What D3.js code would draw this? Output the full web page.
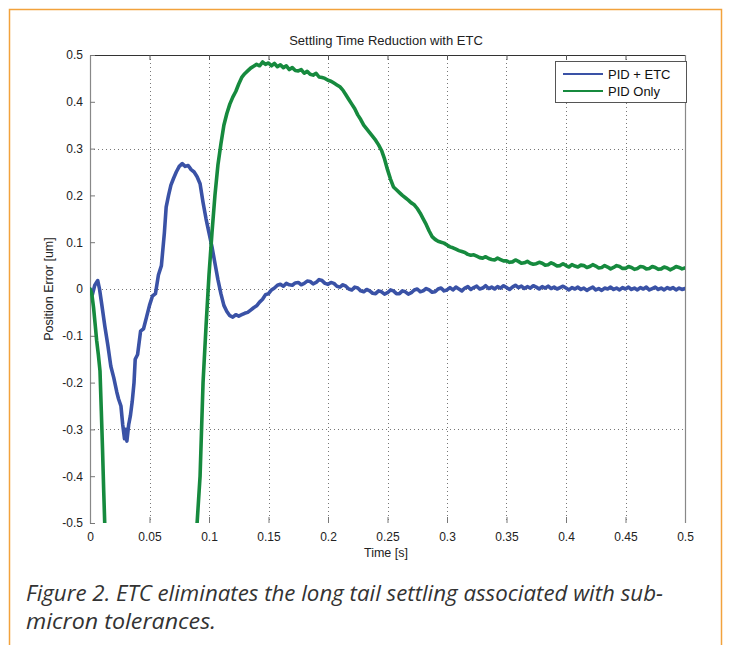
<!DOCTYPE html>
<html>
<head>
<meta charset="utf-8">
<script src="https://cdn.jsdelivr.net/npm/d3@7"></script>
<style>
  html, body { margin: 0; padding: 0; background: #fff; }
  svg { display: block; }
  .sans { font-family: 'Liberation Sans', Arial, Helvetica, sans-serif; }
  .cap { font-family: 'Open Sans', 'Noto Sans', sans-serif; font-style: italic; font-weight: 400; }
</style>
</head>
<body>
<svg id="chart" width="731" height="645"></svg>
<script>
// ---------- DATA ----------
const chartTitle = "Settling Time Reduction with ETC";
const xLabel = "Time [s]";
const yLabel = "Position Error [um]";
const xTicks = [0, 0.05, 0.1, 0.15, 0.2, 0.25, 0.3, 0.35, 0.4, 0.45, 0.5];
const xTickLabels = ["0", "0.05", "0.1", "0.15", "0.2", "0.25", "0.3", "0.35", "0.4", "0.45", "0.5"];
const yTicks = [-0.5, -0.4, -0.3, -0.2, -0.1, 0, 0.1, 0.2, 0.3, 0.4, 0.5];
const yTickLabels = ["-0.5", "-0.4", "-0.3", "-0.2", "-0.1", "0", "0.1", "0.2", "0.3", "0.4", "0.5"];
const yGridValues = [-0.3, 0, 0.3];
const seriesNames = ["PID + ETC", "PID Only"];
const captionLines = [
  "Figure 2. ETC eliminates the long tail settling associated with sub-",
  "micron tolerances."
];

// PID + ETC : [time, error]
const pidEtc = [
  [0, 0], [0.002, -0.012], [0.004, 0.008], [0.0065, 0.018], [0.008, 0.0],
  [0.010, -0.035], [0.0125, -0.08], [0.015, -0.12], [0.0175, -0.165], [0.020, -0.19],
  [0.0225, -0.22], [0.024, -0.235], [0.026, -0.25], [0.0275, -0.29], [0.029, -0.32],
  [0.030, -0.30], [0.031, -0.325], [0.0325, -0.29], [0.034, -0.27], [0.0355, -0.24],
  [0.037, -0.2], [0.038, -0.15], [0.040, -0.14], [0.0425, -0.09], [0.045, -0.085],
  [0.0475, -0.06], [0.050, -0.035], [0.0525, -0.015], [0.055, -0.01], [0.0575, 0.03],
  [0.060, 0.05], [0.0625, 0.12], [0.064, 0.175], [0.066, 0.2], [0.068, 0.222],
  [0.070, 0.235], [0.0725, 0.25], [0.075, 0.262], [0.0775, 0.268], [0.080, 0.262],
  [0.0825, 0.264], [0.085, 0.255], [0.0875, 0.25], [0.090, 0.24], [0.0925, 0.225],
  [0.095, 0.185], [0.0975, 0.15], [0.100, 0.12], [0.1025, 0.09], [0.105, 0.055],
  [0.1075, 0.02], [0.110, -0.01], [0.1125, -0.035], [0.115, -0.048], [0.1175, -0.057],
  [0.120, -0.06], [0.1225, -0.055], [0.125, -0.058], [0.1275, -0.055], [0.130, -0.052],
  [0.1325, -0.05], [0.135, -0.045], [0.1375, -0.04], [0.140, -0.036], [0.1425, -0.028],
  [0.145, -0.022], [0.1475, -0.012], [0.150, -0.01], [0.1525, -0.002], [0.155, 0.002],
  [0.1575, 0.008], [0.160, 0.01], [0.1625, 0.006], [0.165, 0.012], [0.1675, 0.009],
  [0.170, 0.008], [0.1725, 0.013], [0.175, 0.014], [0.1775, 0.009], [0.180, 0.012],
  [0.1825, 0.017], [0.185, 0.016], [0.1875, 0.011], [0.190, 0.014], [0.1925, 0.02],
  [0.195, 0.018], [0.1975, 0.012], [0.200, 0.01], [0.2025, 0.014], [0.205, 0.012],
  [0.2075, 0.006], [0.210, 0.004], [0.2125, 0.009], [0.215, 0.006], [0.2175, 0.0],
  [0.220, -0.002], [0.2225, 0.004], [0.225, 0.002], [0.2275, -0.004], [0.230, -0.006],
  [0.2325, -0.001], [0.235, -0.004], [0.2375, -0.009], [0.240, -0.01], [0.2425, -0.004],
  [0.245, -0.006], [0.2475, -0.011], [0.250, -0.008], [0.2525, -0.002], [0.255, -0.004],
  [0.2575, -0.01], [0.260, -0.01], [0.2625, -0.004], [0.265, -0.006], [0.2675, -0.011],
  [0.270, -0.008], [0.2725, -0.002], [0.275, 0.0], [0.2775, -0.006], [0.280, -0.004],
  [0.2825, 0.001], [0.285, -0.002], [0.2875, -0.007], [0.290, -0.006], [0.2925, 0.0],
  [0.295, 0.002], [0.2975, -0.004], [0.300, -0.002], [0.3025, 0.003], [0.305, -0.002],
  [0.3075, 0.004], [0.310, 0.0], [0.3125, -0.004], [0.315, 0.002], [0.3175, 0.005],
  [0.320, -0.001], [0.3225, 0.003], [0.325, 0.006], [0.3275, 0.0], [0.330, 0.002],
  [0.3325, 0.007], [0.335, 0.001], [0.3375, 0.004], [0.340, 0.0], [0.3425, 0.005],
  [0.345, 0.002], [0.3475, 0.007], [0.350, 0.003], [0.3525, -0.001], [0.355, 0.004],
  [0.3575, 0.008], [0.360, 0.003], [0.3625, 0.006], [0.365, 0.001], [0.3675, 0.005],
  [0.370, 0.002], [0.3725, 0.007], [0.375, 0.004], [0.3775, 0.0], [0.380, 0.005],
  [0.3825, 0.002], [0.385, 0.006], [0.3875, 0.001], [0.390, 0.004], [0.3925, 0.0],
  [0.395, 0.003], [0.3975, 0.006], [0.400, 0.002], [0.4025, -0.002], [0.405, 0.003],
  [0.4075, 0.0], [0.410, 0.004], [0.4125, -0.001], [0.415, 0.002], [0.4175, -0.003],
  [0.420, 0.001], [0.4225, 0.004], [0.425, -0.002], [0.4275, 0.001], [0.430, -0.003],
  [0.4325, 0.002], [0.435, 0.0], [0.4375, 0.004], [0.440, -0.001], [0.4425, 0.002],
  [0.445, -0.002], [0.4475, 0.003], [0.450, 0.0], [0.4525, 0.004], [0.455, -0.001],
  [0.4575, 0.002], [0.460, -0.002], [0.4625, 0.003], [0.465, 0.0], [0.4675, 0.004],
  [0.470, -0.002], [0.4725, 0.001], [0.475, 0.004], [0.4775, -0.001], [0.480, 0.002],
  [0.4825, -0.002], [0.485, 0.003], [0.4875, 0.0], [0.490, 0.003], [0.4925, -0.002],
  [0.495, 0.002], [0.4975, -0.001], [0.500, 0.001]
];

// PID Only : [time, error]
const pidOnly = [
  [0, 0], [0.0015, -0.01], [0.003, -0.04], [0.0045, -0.08], [0.0056, -0.11],
  [0.007, -0.14], [0.0084, -0.175], [0.0095, -0.26], [0.0105, -0.34], [0.0115, -0.43],
  [0.0125, -0.51], [0.014, -0.62], [0.03, -1.0], [0.05, -1.2], [0.07, -1.0],
  [0.085, -0.7], [0.09, -0.5], [0.0925, -0.4], [0.095, -0.2], [0.0975, -0.08],
  [0.100, 0.03], [0.1025, 0.12], [0.105, 0.2], [0.1075, 0.265], [0.110, 0.31],
  [0.1125, 0.35], [0.115, 0.375], [0.1175, 0.395], [0.120, 0.41], [0.1225, 0.422],
  [0.125, 0.438], [0.1275, 0.452], [0.130, 0.46], [0.1325, 0.466], [0.135, 0.472],
  [0.1375, 0.476], [0.140, 0.48], [0.1425, 0.477], [0.145, 0.485], [0.1475, 0.48],
  [0.150, 0.483], [0.1525, 0.477], [0.155, 0.482], [0.1575, 0.475], [0.160, 0.479],
  [0.1625, 0.473], [0.165, 0.477], [0.1675, 0.469], [0.170, 0.473], [0.1725, 0.467],
  [0.175, 0.466], [0.1775, 0.469], [0.180, 0.461], [0.1825, 0.465], [0.185, 0.459],
  [0.1875, 0.457], [0.190, 0.461], [0.1925, 0.453], [0.195, 0.452], [0.1975, 0.45],
  [0.200, 0.446], [0.2025, 0.444], [0.205, 0.44], [0.2075, 0.436], [0.210, 0.432],
  [0.2125, 0.425], [0.215, 0.415], [0.2175, 0.405], [0.220, 0.395], [0.2225, 0.385],
  [0.225, 0.372], [0.2275, 0.362], [0.230, 0.35], [0.2325, 0.342], [0.235, 0.334],
  [0.2375, 0.326], [0.240, 0.318], [0.2425, 0.308], [0.245, 0.296], [0.2475, 0.278],
  [0.250, 0.255], [0.2525, 0.235], [0.255, 0.218], [0.2575, 0.212], [0.260, 0.206],
  [0.2625, 0.2], [0.265, 0.195], [0.2675, 0.19], [0.270, 0.184], [0.2725, 0.18],
  [0.275, 0.172], [0.2775, 0.162], [0.280, 0.15], [0.2825, 0.138], [0.285, 0.124],
  [0.2875, 0.112], [0.290, 0.106], [0.2925, 0.102], [0.295, 0.1], [0.2975, 0.098],
  [0.300, 0.094], [0.3025, 0.09], [0.305, 0.088], [0.3075, 0.085], [0.310, 0.082],
  [0.3125, 0.08], [0.315, 0.078], [0.3175, 0.074], [0.320, 0.072], [0.3225, 0.073],
  [0.325, 0.07], [0.3275, 0.067], [0.330, 0.066], [0.3325, 0.069], [0.335, 0.065],
  [0.3375, 0.063], [0.340, 0.062], [0.3425, 0.066], [0.345, 0.063], [0.3475, 0.06],
  [0.350, 0.06], [0.3525, 0.057], [0.355, 0.058], [0.3575, 0.062], [0.360, 0.059],
  [0.3625, 0.055], [0.365, 0.056], [0.3675, 0.059], [0.370, 0.055], [0.3725, 0.053],
  [0.375, 0.054], [0.3775, 0.057], [0.380, 0.055], [0.3825, 0.051], [0.385, 0.052],
  [0.3875, 0.056], [0.390, 0.053], [0.3925, 0.049], [0.395, 0.05], [0.3975, 0.054],
  [0.400, 0.05], [0.4025, 0.047], [0.405, 0.052], [0.4075, 0.049], [0.410, 0.047],
  [0.4125, 0.051], [0.415, 0.05], [0.4175, 0.046], [0.420, 0.048], [0.4225, 0.052],
  [0.425, 0.049], [0.4275, 0.045], [0.430, 0.046], [0.4325, 0.05], [0.435, 0.047],
  [0.4375, 0.043], [0.440, 0.046], [0.4425, 0.05], [0.445, 0.048], [0.4475, 0.044],
  [0.450, 0.044], [0.4525, 0.048], [0.455, 0.046], [0.4575, 0.042], [0.460, 0.044],
  [0.4625, 0.048], [0.465, 0.047], [0.4675, 0.043], [0.470, 0.044], [0.4725, 0.048],
  [0.475, 0.046], [0.4775, 0.042], [0.480, 0.043], [0.4825, 0.047], [0.485, 0.045],
  [0.4875, 0.041], [0.490, 0.044], [0.4925, 0.048], [0.495, 0.046], [0.4975, 0.043],
  [0.500, 0.045]
];

const seriesColors = ["#3a52a6", "#168a3e"];

// ---------- LAYOUT ----------
const svg = d3.select("#chart");
const plot = { left: 90, right: 685, top: 55, bottom: 523 };

const x = d3.scaleLinear().domain([0, 0.5]).range([plot.left, plot.right]);
const y = d3.scaleLinear().domain([-0.5, 0.5]).range([plot.bottom, plot.top]);

// orange frame
svg.append("rect")
  .attr("x", 9.5).attr("y", 9.5)
  .attr("width", 712).attr("height", 660)
  .attr("fill", "none")
  .attr("stroke", "#f2a23c")
  .attr("stroke-width", 1.5);

// clip
svg.append("defs").append("clipPath").attr("id", "plotClip")
  .append("rect")
  .attr("x", plot.left).attr("y", plot.top)
  .attr("width", plot.right - plot.left).attr("height", plot.bottom - plot.top);

// vertical grid lines (dotted)
const gridG = svg.append("g");
gridG.selectAll("line.vg")
  .data(xTicks.filter(t => t > 0 && t < 0.5))
  .join("line")
  .attr("x1", d => Math.round(x(d)) + 0.5).attr("x2", d => Math.round(x(d)) + 0.5)
  .attr("y1", plot.top).attr("y2", plot.bottom)
  .attr("stroke", "#777")
  .attr("stroke-width", 1)
  .attr("stroke-dasharray", "1,3");
// horizontal grid lines (dotted)
gridG.selectAll("line.hg")
  .data(yGridValues)
  .join("line")
  .attr("x1", plot.left).attr("x2", plot.right)
  .attr("y1", d => Math.round(y(d)) + 0.5).attr("y2", d => Math.round(y(d)) + 0.5)
  .attr("stroke", "#777")
  .attr("stroke-width", 1)
  .attr("stroke-dasharray", "1,3");

// axes via d3
const xAxisBottom = d3.axisBottom(x).tickValues(xTicks)
  .tickFormat((d, i) => xTickLabels[i]).tickSizeInner(-6).tickSizeOuter(0).tickPadding(9);
const xAxisTop = d3.axisTop(x).tickValues(xTicks)
  .tickFormat("").tickSizeInner(-5).tickSizeOuter(0);
const yAxisLeft = d3.axisLeft(y).tickValues(yTicks)
  .tickFormat((d, i) => yTickLabels[i]).tickSizeInner(-5).tickSizeOuter(0).tickPadding(7);

const gxb = svg.append("g").attr("transform", `translate(0,${plot.bottom})`).call(xAxisBottom);
gxb.select(".domain").remove();
gxb.attr("font-family", null).attr("font-size", null);
gxb.selectAll(".tick line").attr("stroke", "#777");
gxb.selectAll(".tick text")
  .attr("class", "sans")
  .attr("font-size", 12).attr("fill", "#222");

const gxt = svg.append("g").attr("transform", `translate(0,${plot.top})`).call(xAxisTop);
gxt.select(".domain").attr("stroke", "#333").attr("stroke-width", 1.2);
gxt.selectAll(".tick line").attr("stroke", "#555");

const gyl = svg.append("g").attr("transform", `translate(${plot.left},0)`).call(yAxisLeft);
gyl.attr("font-family", null).attr("font-size", null);
gyl.select(".domain").attr("stroke", "#888").attr("stroke-width", 1.2);
gyl.selectAll(".tick line").attr("stroke", "#777");
gyl.selectAll(".tick text")
  .attr("class", "sans")
  .attr("font-size", 12).attr("fill", "#222");

// right border
svg.append("line")
  .attr("x1", plot.right + 0.5).attr("x2", plot.right + 0.5)
  .attr("y1", plot.top).attr("y2", plot.bottom)
  .attr("stroke", "#888").attr("stroke-width", 1.2);

// lines
const line = d3.line().x(d => x(d[0])).y(d => y(d[1]));
const linesG = svg.append("g").attr("clip-path", "url(#plotClip)");
[pidEtc, pidOnly].forEach((s, i) => {
  linesG.append("path")
    .datum(s)
    .attr("d", line)
    .attr("fill", "none")
    .attr("stroke", seriesColors[i])
    .attr("stroke-width", 3.6)
    .attr("stroke-linejoin", "round")
    .attr("stroke-linecap", "round");
});

// title and labels
svg.append("text")
  .attr("class", "sans")
  .attr("x", 386).attr("y", 45)
  .attr("text-anchor", "middle")
  .attr("font-size", 13).attr("fill", "#222")
  .text(chartTitle);

svg.append("text")
  .attr("class", "sans")
  .attr("x", 386).attr("y", 557)
  .attr("text-anchor", "middle")
  .attr("font-size", 12.5).attr("fill", "#222")
  .text(xLabel);

svg.append("text")
  .attr("class", "sans")
  .attr("transform", `translate(53,${(plot.top + plot.bottom) / 2}) rotate(-90)`)
  .attr("text-anchor", "middle")
  .attr("font-size", 12.5).attr("fill", "#222")
  .text(yLabel);

// legend
const lg = svg.append("g");
lg.append("rect")
  .attr("x", 555.5).attr("y", 61.5).attr("width", 131).attr("height", 41)
  .attr("fill", "#fff").attr("stroke", "#555").attr("stroke-width", 1);
seriesNames.forEach((name, i) => {
  const yy = 74 + i * 17;
  lg.append("line")
    .attr("x1", 563).attr("x2", 603).attr("y1", yy).attr("y2", yy)
    .attr("stroke", seriesColors[i]).attr("stroke-width", 2.2);
  lg.append("text")
    .attr("class", "sans")
    .attr("x", 608).attr("y", yy + 4.5)
    .attr("font-size", 13).attr("fill", "#111")
    .text(name);
});

// caption
const capWidths = [637, 190];
captionLines.forEach((t, i) => {
  svg.append("text")
    .attr("class", "cap")
    .attr("x", 26).attr("y", 601 + i * 28)
    .attr("font-size", 21).attr("fill", "#333")
    .attr("textLength", capWidths[i])
    .attr("lengthAdjust", "spacingAndGlyphs")
    .text(t);
});
</script>
</body>
</html>
